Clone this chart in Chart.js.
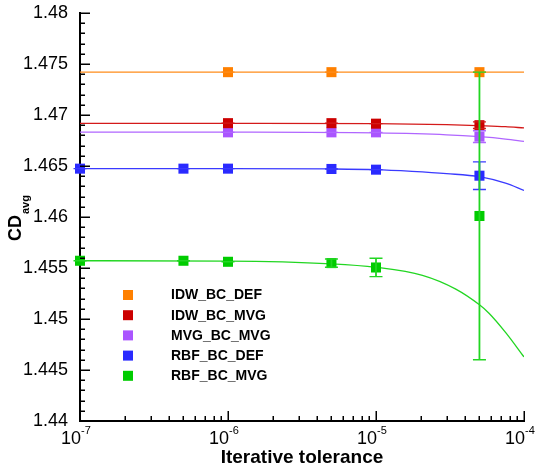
<!DOCTYPE html>
<html><head><meta charset="utf-8">
<script src="https://cdn.jsdelivr.net/npm/chart.js@4.4.1/dist/chart.umd.min.js"></script>
<style>html,body{margin:0;padding:0;background:#fff;}#wrap{width:540px;height:468px;}</style>
</head><body><div id="wrap"><canvas id="c" width="540" height="468"></canvas></div>
<script>
// ---------- data ----------
const seriesNames = ['IDW_BC_DEF', 'IDW_BC_MVG', 'MVG_BC_MVG', 'RBF_BC_DEF', 'RBF_BC_MVG'];

const idwDefX = [1e-6, 5e-6, 5e-5];
const idwDefY = [1.4742, 1.4742, 1.4742];
const idwDefErr = [0, 0, 0];
const idwDefFitX = [1e-7, 1e-4];
const idwDefFitY = [1.4742, 1.4742];

const idwMvgX = [1e-6, 5e-6, 1e-5, 5e-5];
const idwMvgY = [1.4692, 1.4692, 1.46915, 1.4690];
const idwMvgErr = [0, 0, 0, 0.00033];
const idwMvgFitX = [1e-7, 1e-6, 1e-5, 3e-5, 5e-5, 7.5e-5, 1e-4];
const idwMvgFitY = [1.46918, 1.46918, 1.46915, 1.46906, 1.46896, 1.46886, 1.46873];

const mvgMvgX = [1e-6, 5e-6, 1e-5, 5e-5];
const mvgMvgY = [1.4683, 1.4683, 1.4683, 1.46788];
const mvgMvgErr = [0, 0, 0, 0.00057];
const mvgMvgFitX = [1e-7, 1e-6, 1e-5, 3e-5, 5e-5, 7.5e-5, 1e-4];
const mvgMvgFitY = [1.46833, 1.46832, 1.46824, 1.46806, 1.46787, 1.46764, 1.46741];

const rbfDefX = [1e-7, 5e-7, 1e-6, 5e-6, 1e-5, 5e-5];
const rbfDefY = [1.46474, 1.46474, 1.46474, 1.46471, 1.46464, 1.46405];
const rbfDefErr = [0, 0, 0, 0, 0, 0.00135];
const rbfDefFitX = [1e-7, 1e-6, 5e-6, 1e-5, 1.75e-5, 3e-5, 5e-5, 7.5e-5, 1e-4];
const rbfDefFitY = [1.46474, 1.46474, 1.46471, 1.46464, 1.46447, 1.46425, 1.46395, 1.46331, 1.46261];

const rbfMvgX = [1e-7, 5e-7, 1e-6, 5e-6, 1e-5, 5e-5];
const rbfMvgY = [1.45571, 1.45571, 1.45561, 1.45548, 1.45505, 1.46010];
const rbfMvgErr = [0, 0, 0, 0.0004, 0.0009, 0.0141];
const rbfMvgFitX = [1e-7, 1e-6, 5e-6, 1e-5, 2.06e-5, 3.46e-5, 5e-5, 5.8e-5, 7.55e-5, 1e-4];
const rbfMvgFitY = [1.45571, 1.45568, 1.45541, 1.45507, 1.45428, 1.45293, 1.45139, 1.45057, 1.44864, 1.44628];

const xTickValues = [1e-7, 1e-6, 1e-5, 1e-4];
const xTickExponents = ['-7', '-6', '-5', '-4'];
const yTickValues = [1.44, 1.445, 1.45, 1.455, 1.46, 1.465, 1.47, 1.475, 1.48];
const yTickLabels = ['1.44', '1.445', '1.45', '1.455', '1.46', '1.465', '1.47', '1.475', '1.48'];
const xTitle = 'Iterative tolerance';
const yTitleMain = 'CD';
const yTitleSub = 'avg';

// ---------- styles ----------
const colors = ['#ff8000', '#cc0000', '#aa55ff', '#2a2aff', '#00cc00'];
const lineColors = ['#ff8c1a', '#d41a1a', '#b066ff', '#3a3aff', '#22d622'];
const FONT = '"Liberation Sans", Arial, Helvetica, sans-serif';

const series = [
  {x: idwDefX, y: idwDefY, e: idwDefErr, fx: idwDefFitX, fy: idwDefFitY},
  {x: idwMvgX, y: idwMvgY, e: idwMvgErr, fx: idwMvgFitX, fy: idwMvgFitY},
  {x: mvgMvgX, y: mvgMvgY, e: mvgMvgErr, fx: mvgMvgFitX, fy: mvgMvgFitY},
  {x: rbfDefX, y: rbfDefY, e: rbfDefErr, fx: rbfDefFitX, fy: rbfDefFitY},
  {x: rbfMvgX, y: rbfMvgY, e: rbfMvgErr, fx: rbfMvgFitX, fy: rbfMvgFitY}
];

const pts = (xs, ys) => xs.map((v, i) => ({x: v, y: ys[i]}));

const datasets = [];
series.forEach((s, i) => {
  datasets.push({
    label: seriesNames[i], data: pts(s.x, s.y), showLine: false,
    pointStyle: 'rect', pointRadius: 7.1, pointHoverRadius: 7.1,
    backgroundColor: colors[i], borderColor: colors[i], borderWidth: 0, clip: false
  });
});
series.forEach((s, i) => {
  datasets.push({
    label: seriesNames[i] + ' fit', data: pts(s.fx, s.fy), showLine: true,
    pointRadius: 0, borderColor: lineColors[i], borderWidth: 1.3,
    cubicInterpolationMode: 'monotone', fill: false
  });
});

const decor = {
  id: 'decor',
  afterDatasetsDraw(chart) {
    const ctx = chart.ctx, xs = chart.scales.x, ys = chart.scales.y;
    ctx.save();
    series.forEach((s, i) => {
      ctx.strokeStyle = lineColors[i];
      s.x.forEach((xv, j) => {
        const px = xs.getPixelForValue(xv);
        const top = ys.getPixelForValue(s.y[j] + s.e[j]);
        const bot = ys.getPixelForValue(s.y[j] - s.e[j]);
        ctx.lineWidth = 1.8;
        ctx.beginPath(); ctx.moveTo(px, top); ctx.lineTo(px, bot); ctx.stroke();
        ctx.lineWidth = 1.4;
        ctx.beginPath();
        ctx.moveTo(px - 6.5, top); ctx.lineTo(px + 6.5, top);
        ctx.moveTo(px - 6.5, bot); ctx.lineTo(px + 6.5, bot);
        ctx.stroke();
      });
    });
    ctx.restore();
  },
  afterDraw(chart) {
    const ctx = chart.ctx, xs = chart.scales.x, ys = chart.scales.y, a = chart.chartArea;
    ctx.save();
    ctx.strokeStyle = '#000';
    ctx.lineWidth = 1.5;
    // y ticks (inward)
    ctx.beginPath();
    for (let k = 0; k <= 40; k++) {
      const v = 1.44 + k * 0.001;
      const py = Math.round(ys.getPixelForValue(v)) + 0.25;
      const len = (k % 5 === 0) ? 10 : 5;
      ctx.moveTo(a.left, py); ctx.lineTo(a.left + len, py);
    }
    // x ticks (inward)
    for (let d = -7; d <= -4; d++) {
      const base = Math.pow(10, d);
      const px = Math.round(xs.getPixelForValue(base)) + 0.25;
      ctx.moveTo(px, a.bottom); ctx.lineTo(px, a.bottom - 10);
      if (d < -4) {
        for (let m = 2; m <= 9; m++) {
          const qx = Math.round(xs.getPixelForValue(m * base)) + 0.25;
          ctx.moveTo(qx, a.bottom); ctx.lineTo(qx, a.bottom - 5);
        }
      }
    }
    ctx.stroke();

    // y tick labels
    ctx.fillStyle = '#000';
    ctx.font = '18px ' + FONT;
    ctx.textAlign = 'right';
    ctx.textBaseline = 'middle';
    yTickValues.forEach((v, i) => {
      ctx.fillText(yTickLabels[i], a.left - 12, ys.getPixelForValue(v) + 0.5);
    });

    // x tick labels 10^n
    ctx.textBaseline = 'alphabetic';
    xTickValues.forEach((v, i) => {
      const px = xs.getPixelForValue(v);
      ctx.font = '18px ' + FONT;
      ctx.textAlign = 'right';
      ctx.fillText('10', px + 1, 444);
      ctx.font = '11px ' + FONT;
      ctx.textAlign = 'left';
      ctx.fillText(xTickExponents[i], px + 1, 434);
    });

    // x title
    ctx.font = 'bold 19px ' + FONT;
    ctx.textAlign = 'center';
    ctx.fillText(xTitle, (a.left + a.right) / 2, 463);

    // y title (rotated) CD_avg
    ctx.save();
    ctx.translate(21, 241);
    ctx.rotate(-Math.PI / 2);
    ctx.textAlign = 'left';
    ctx.font = 'bold 18px ' + FONT;
    ctx.fillText(yTitleMain, 0, 0);
    const w = ctx.measureText(yTitleMain).width;
    ctx.font = 'bold 11px ' + FONT;
    ctx.fillText(yTitleSub, w + 1, 7.5);
    ctx.restore();

    // legend
    ctx.font = 'bold 14px ' + FONT;
    ctx.textAlign = 'left';
    ctx.textBaseline = 'middle';
    seriesNames.forEach((n, i) => {
      const cy = 295 + i * 20.2;
      ctx.fillStyle = colors[i];
      ctx.fillRect(123, cy - 5, 10, 10);
      ctx.fillStyle = '#000';
      ctx.fillText(n, 171, cy + 0.5);
    });
    ctx.restore();
  }
};

new Chart(document.getElementById('c'), {
  type: 'scatter',
  data: {datasets},
  options: {
    responsive: false, animation: false, devicePixelRatio: 1,
    layout: {autoPadding: false, padding: {left: 80, top: 13, right: 16, bottom: 47}},
    plugins: {legend: {display: false}, tooltip: {enabled: false}},
    events: [],
    scales: {
      x: {
        type: 'logarithmic', min: 1e-7, max: 1e-4,
        grid: {display: false, drawTicks: false},
        ticks: {display: false},
        border: {display: true, color: '#000', width: 2}
      },
      y: {
        type: 'linear', min: 1.44, max: 1.48,
        grid: {display: false, drawTicks: false},
        ticks: {display: false},
        border: {display: true, color: '#000', width: 2}
      }
    }
  },
  plugins: [decor]
});
</script></body></html>
